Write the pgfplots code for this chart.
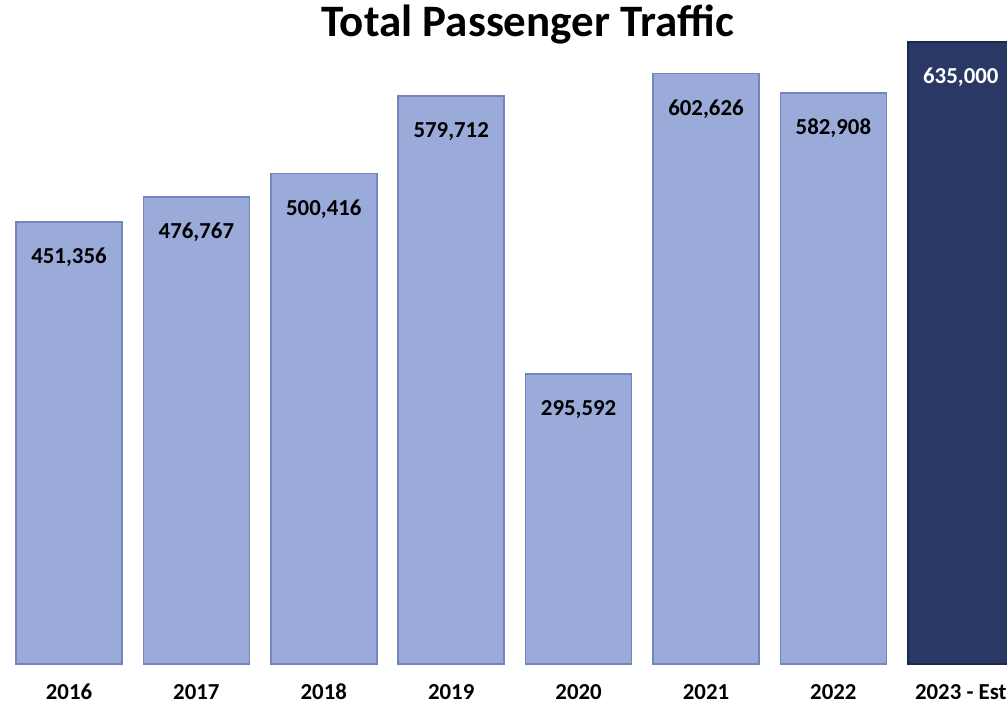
\documentclass[border=0pt]{standalone}
\usepackage{pgfplots}
\pgfplotsset{compat=1.18}
\usepackage{pgfplotstable}
\usepackage{fontspec}
\setmainfont{Carlito}
\definecolor{barlight}{HTML}{9AAAD9}
\definecolor{barlightedge}{HTML}{7484BC}
\definecolor{bardark}{HTML}{2A3866}
\definecolor{bardarkedge}{HTML}{1C2850}
\pgfplotstableread{
x y lab
0 451356 451,356
1 476767 476,767
2 500416 500,416
3 579712 579,712
4 295592 295,592
5 602626 602,626
6 582908 582,908
}\lighttable
\pgfplotstableread{
x y lab
7 635000 635,000
}\darktable
\begin{document}
\begin{tikzpicture}
\begin{axis}[
  scale only axis,
  width=10.07cm, height=7.07cm,
  xmin=-0.5416, xmax=7.3627,
  ymin=-43877, ymax=677550,
  axis line style={draw=none},
  ytick=\empty,
  ybar, bar width=10.6mm, bar shift=0pt,
  xtick={0,1,2,3,4,5,6,7},
  xticklabels={2016,2017,2018,2019,2020,2021,2022,2023 - Est},
  xtick pos=bottom,
  xticklabel style={font=\fontsize{6.5}{7}\selectfont\bfseries, anchor=center, yshift=1.5mm},
  major tick length=0pt,
  tick style={draw=none},
  point meta=explicit symbolic,
  nodes near coords,
  every node near coord/.append style={font=\fontsize{6.5}{7}\selectfont\bfseries, anchor=center, yshift=-3.55mm},
]
\addplot[fill=barlight, draw=barlightedge, line width=0.5pt] table[x=x, y=y, meta=lab] {\lighttable};
\addplot[fill=bardark, draw=bardarkedge, line width=0.5pt, every node near coord/.append style={text=white}] table[x=x, y=y, meta=lab] {\darktable};
\node[font=\fontsize{12.8}{14}\selectfont\bfseries, anchor=center] at (rel axis cs:0.524,0.965) {Total Passenger Traffic};
\end{axis}
\pgfresetboundingbox
\path (current axis.south west) rectangle (current axis.north east);
\end{tikzpicture}
\end{document}
